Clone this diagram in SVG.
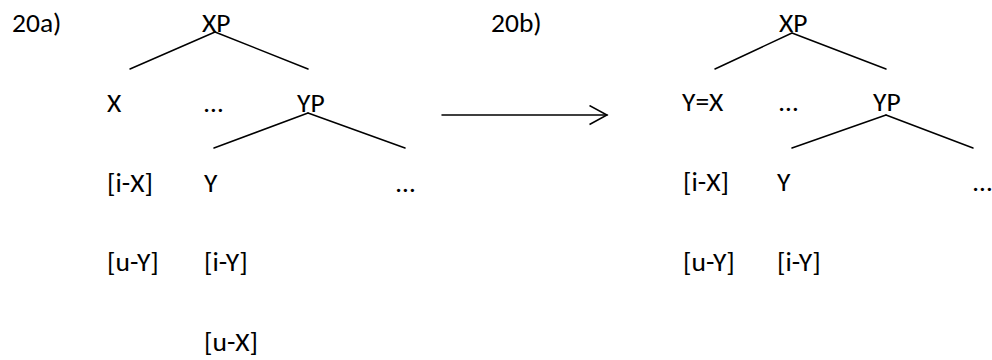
<svg xmlns="http://www.w3.org/2000/svg" width="992" height="360" viewBox="0 0 992 360">
  <style>
    text { font-family: "Carlito", "Open Sans", "Liberation Sans", sans-serif; font-size: 27.5px; fill: #000; }
    .edge { stroke: #000; stroke-width: 1.5; fill: none; stroke-linecap: round; }
  </style>
  <defs>
    <marker id="open-arrow" markerUnits="userSpaceOnUse" markerWidth="22" markerHeight="24" refX="18" refY="10" orient="auto">
      <path d="M0.5,0.5 L18,10 L0.5,19.5" fill="none" stroke="#000" stroke-width="1.5"/>
    </marker>
  </defs>
  <rect width="992" height="360" fill="#fff"/>

  <!-- Tree 20a -->
  <g id="label-20a"><text x="12" y="32">20a)</text></g>
  <g id="a-XP"><text x="202" y="31.5">XP</text></g>
  <g id="a-X"><text x="107" y="111.5">X</text></g>
  <g id="a-dots1"><text x="204" y="111.5">…</text></g>
  <g id="a-YP"><text x="297" y="111.5">YP</text></g>
  <g id="a-iX"><text x="107" y="191.5">[i-X]</text></g>
  <g id="a-Y"><text x="204" y="191.5">Y</text></g>
  <g id="a-dots2"><text x="396" y="191.5">…</text></g>
  <g id="a-uY"><text x="107" y="271">[u-Y]</text></g>
  <g id="a-iY"><text x="204" y="271">[i-Y]</text></g>
  <g id="a-uX"><text x="204" y="351">[u-X]</text></g>

  <!-- Tree 20b -->
  <g id="label-20b"><text x="491" y="31.5">20b)</text></g>
  <g id="b-XP"><text x="779" y="31.5">XP</text></g>
  <g id="b-YeqX"><text x="682" y="111">Y=X</text></g>
  <g id="b-dots1"><text x="779" y="111">…</text></g>
  <g id="b-YP"><text x="873" y="111">YP</text></g>
  <g id="b-iX"><text x="683" y="191">[i-X]</text></g>
  <g id="b-Y"><text x="777" y="191">Y</text></g>
  <g id="b-dots2"><text x="973" y="191">…</text></g>
  <g id="b-uY"><text x="683" y="271">[u-Y]</text></g>
  <g id="b-iY"><text x="777" y="271">[i-Y]</text></g>

  <!-- Connectors -->
  <g id="connectors">
    <line class="edge" x1="215" y1="32" x2="130" y2="69"/>
    <line class="edge" x1="215" y1="32" x2="308" y2="69"/>
    <line class="edge" x1="308" y1="113" x2="214" y2="148"/>
    <line class="edge" x1="308" y1="113" x2="405" y2="148"/>
    <line class="edge" x1="792" y1="33" x2="715" y2="69"/>
    <line class="edge" x1="792" y1="33" x2="886" y2="69"/>
    <line class="edge" x1="886" y1="115" x2="792" y2="148"/>
    <line class="edge" x1="886" y1="115" x2="973" y2="148"/>
    <line class="edge" x1="442" y1="115" x2="607" y2="115" marker-end="url(#open-arrow)"/>
  </g>
</svg>
